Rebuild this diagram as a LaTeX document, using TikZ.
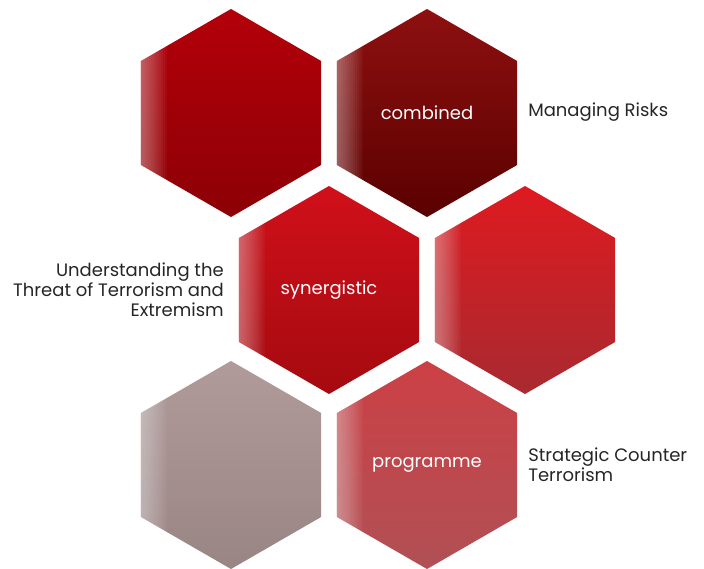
\documentclass[tikz,border=0pt]{standalone}
\usepackage{fontspec}
\setmainfont{Poppins}
\usetikzlibrary{shapes.geometric}

\definecolor{redtop}{HTML}{B3000A}
\definecolor{redbot}{HTML}{8C0005}
\definecolor{maroontop}{HTML}{8E1010}
\definecolor{maroonbot}{HTML}{5A0000}
\definecolor{crimtop}{HTML}{D0101A}
\definecolor{crimbot}{HTML}{A50A10}
\definecolor{brighttop}{HTML}{DE1A20}
\definecolor{brightbot}{HTML}{A82A30}
\definecolor{greytop}{HTML}{B09A9A}
\definecolor{greybot}{HTML}{9A8585}
\definecolor{rosetop}{HTML}{CC4045}
\definecolor{rosebot}{HTML}{B05055}

\tikzset{
	hex/.style={regular polygon, regular polygon sides=6, regular polygon rotate=30,
		minimum size=5.2cm, inner sep=0pt, text=white},
	label/.style={text=black!85, inner sep=0pt},
	glowstrip/.style={fill=white, fill opacity=.035}
}

\begin{document}
\begin{tikzpicture}[x=0.025cm, y=-0.025cm, every node/.style={font=\fontsize{12.8}{14.2}\selectfont}]
	\useasboundingbox (0,0) rectangle (704,569);
	
	\begin{scope}
	\node (dark) at (231,113) [hex, top color=redtop, bottom color=redbot] {};
	\node (combined) at (427,113) [hex, top color=maroontop, bottom color=maroonbot] {combined};
	\node (risks) at (528,112) [label, anchor=west] {Managing Risks};
	\end{scope}
	
	\begin{scope}
	\node (synergistic) at (329,290) [hex, top color=crimtop, bottom color=crimbot] {synergistic};
	\node (bright) at (525,290) [hex, top color=brighttop, bottom color=brightbot] {};
	\node (threat) at (224,290) [label, anchor=east, align=right] {Understanding the\\Threat of Terrorism and\\Extremism};
	\end{scope}
	
	\begin{scope}
	\node (grey) at (231,465) [hex, top color=greytop, bottom color=greybot] {};
	\node (programme) at (427,465) [hex, top color=rosetop, bottom color=rosebot] {programme};
	\node (strategic) at (528,465) [label, anchor=west, align=left] {Strategic Counter\\Terrorism};
	\end{scope}
	
	% soft light band on the left edge of each hexagon
	\foreach \h in {dark,combined,synergistic,bright,grey,programme} {
		\begin{scope}
		\clip (\h.corner 1) -- (\h.corner 2) -- (\h.corner 3)
			-- (\h.corner 4) -- (\h.corner 5) -- (\h.corner 6) -- cycle;
		\foreach \w in {2,4,...,26}
			\fill[glowstrip] (\h.west) ++(0,-110) rectangle ++(\w,220);
		\end{scope}
	}
\end{tikzpicture}
\end{document}
